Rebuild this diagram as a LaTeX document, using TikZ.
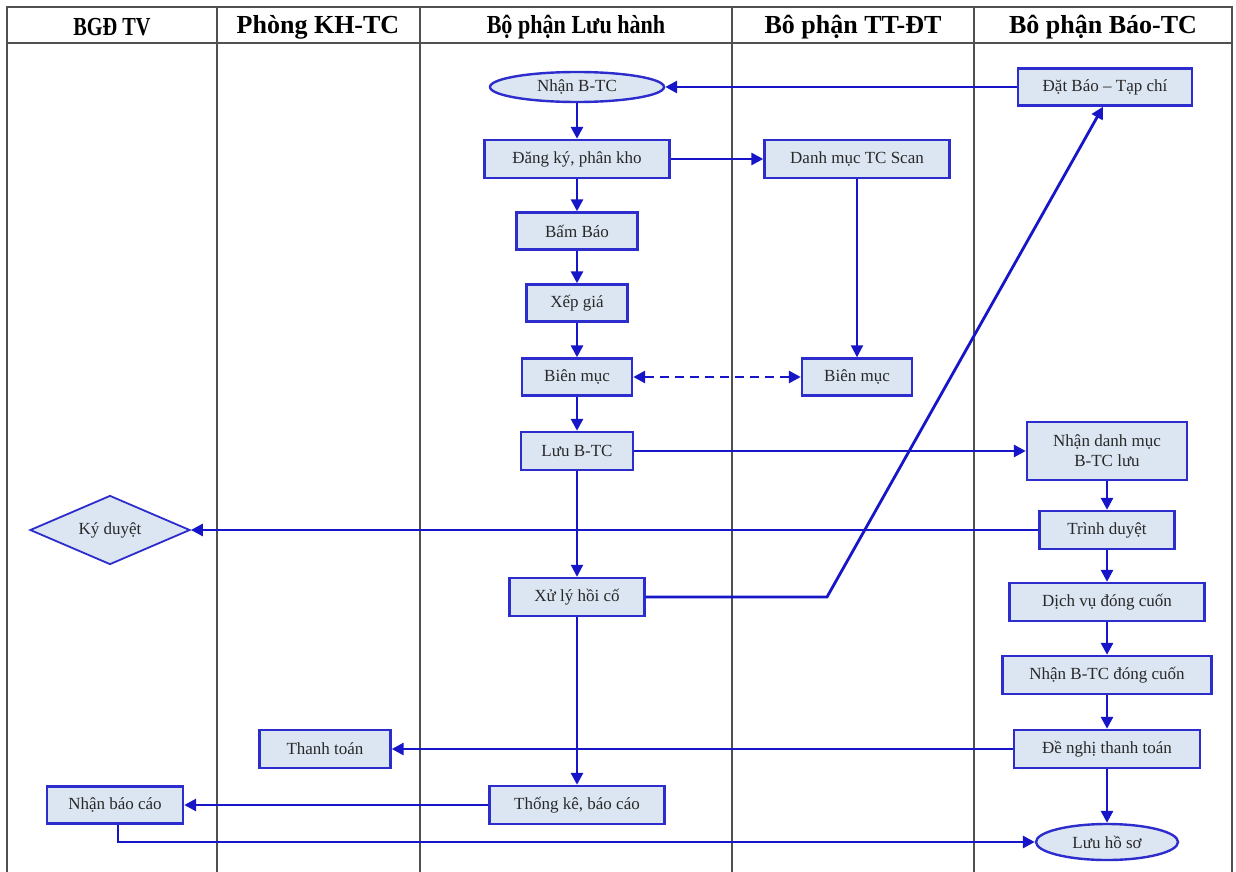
\documentclass[tikz,border=0pt]{standalone}
\usepackage{fontspec}
\setmainfont{Liberation Serif}
\usetikzlibrary{shapes.geometric,arrows.meta}
\definecolor{linkblue}{RGB}{22,22,200}
\definecolor{boxborder}{RGB}{45,45,205}
\definecolor{boxfill}{RGB}{220,230,242}
\definecolor{boxtext}{RGB}{40,40,40}
\definecolor{laneline}{RGB}{80,80,80}
\tikzset{
  x=1pt, y=-1pt,
  procbox/.style={draw=boxborder, line width=2.4pt, fill=boxfill, text=boxtext,
    inner sep=0pt, align=center, font=\fontsize{17}{20}\selectfont},
  ellbox/.style={procbox, ellipse},
  diabox/.style={procbox, diamond, aspect=2.3, line width=1.8pt},
  link/.style={draw=linkblue, line width=2.8pt, -{Triangle[length=12pt,width=12pt]}},
  thinlink/.style={link, line width=2pt},
  dashlink/.style={draw=linkblue, line width=2.8pt, dash pattern=on 9pt off 6pt,
    {Triangle[length=12pt,width=12pt]}-{Triangle[length=12pt,width=12pt]}},
  lane/.style={draw=laneline, line width=2pt},
  headtext/.style={font=\fontsize{26}{28}\selectfont\bfseries, text=black, inner sep=0pt},
}
\begin{document}
\begin{tikzpicture}
\useasboundingbox (0,0) rectangle (1236,872);
\fill[white] (0,0) rectangle (1236,872);
% lanes
\draw[lane] (7,872) -- (7,7) -- (1232,7) -- (1232,872);
\draw[lane] (7,43) -- (1232,43);
\foreach \lx in {217,420,732,974} {\draw[lane] (\lx,7) -- (\lx,872);}
% headers
\node[headtext] (h1) at (112,27) {\scalebox{0.78}[1]{BGĐ TV}};
\node[headtext] (h2) at (318,27) {Phòng KH-TC};
\node[headtext] (h3) at (576,27) {\scalebox{0.85}[1]{Bộ phận Lưu hành}};
\node[headtext] (h4) at (853,27) {Bô phận TT-ĐT};
\node[headtext] (h5) at (1103,27) {Bô phận Báo-TC};
% nodes
\node[ellbox, minimum width=174pt, minimum height=30pt] (nhan) at (577,87) {Nhận B-TC};
\node[procbox, minimum width=174pt, minimum height=37pt] (dat) at (1105,87) {Đặt Báo – Tạp chí};
\node[procbox, minimum width=185pt, minimum height=38pt] (dang) at (577,159) {Đăng ký, phân kho};
\node[procbox, minimum width=185pt, minimum height=38pt] (scan) at (857,159) {Danh mục TC Scan};
\node[procbox, minimum width=121pt, minimum height=37pt] (bam) at (577,231) {Bấm Báo};
\node[procbox, minimum width=101pt, minimum height=37pt] (xep) at (577,303) {Xếp giá};
\node[procbox, minimum width=110pt, minimum height=37pt] (bien1) at (577,377) {Biên mục};
\node[procbox, minimum width=110pt, minimum height=37pt] (bien2) at (857,377) {Biên mục};
\node[procbox, minimum width=112pt, minimum height=38pt] (luu) at (577,451) {Lưu B-TC};
\node[procbox, minimum width=160pt, minimum height=58pt] (ndm) at (1107,451) {Nhận danh mục\\B-TC lưu};
\node[procbox, minimum width=135pt, minimum height=38pt] (trinh) at (1107,530) {Trình duyệt};
\node[diabox, minimum width=160pt, minimum height=69pt] (ky) at (110,530) {Ký duyệt};
\node[procbox, minimum width=135pt, minimum height=38pt] (xuly) at (577,597) {Xử lý hồi cố};
\node[procbox, minimum width=195pt, minimum height=38pt] (dich) at (1107,602) {Dịch vụ đóng cuốn};
\node[procbox, minimum width=209pt, minimum height=38pt] (nhandc) at (1107,675) {Nhận B-TC đóng cuốn};
\node[procbox, minimum width=186pt, minimum height=38pt] (denghi) at (1107,749) {Đề nghị thanh toán};
\node[procbox, minimum width=131pt, minimum height=38pt] (thanh) at (325,749) {Thanh toán};
\node[procbox, minimum width=136pt, minimum height=37pt] (nbc) at (115,805) {Nhận báo cáo};
\node[procbox, minimum width=175pt, minimum height=38pt] (thong) at (577,805) {Thống kê, báo cáo};
\node[ellbox, minimum width=142pt, minimum height=36pt] (hoso) at (1107,842) {Lưu hồ sơ};
\coordinate (bend1) at (827,597);
\coordinate (bend2) at (118,842);
% connectors
\draw[link] (dat.west) -- (nhan.east);
\draw[link] (nhan) -- (dang);
\draw[link] (dang) -- (scan);
\draw[link] (dang) -- (bam);
\draw[link] (bam) -- (xep);
\draw[link] (xep) -- (bien1);
\draw[link] (bien1) -- (luu);
\draw[thinlink] (luu) -- (xuly);
\draw[link] (xuly) -- (thong);
\draw[thinlink] (scan) -- (bien2);
\draw[dashlink] (bien1) -- (bien2);
\draw[link] (luu) -- (ndm);
\draw[link] (ndm) -- (trinh);
\draw[link] (trinh.west) -- (ky.east);
\draw[link] (trinh) -- (dich);
\draw[link] (dich) -- (nhandc);
\draw[link] (nhandc) -- (denghi);
\draw[link] (denghi) -- (hoso);
\draw[link] (denghi) -- (thanh);
\draw[link] (thong) -- (nbc);
\draw[link] (nbc.south -| bend2) -- (bend2) -- (hoso.west);
\draw[link] (xuly.east) -- (bend1) -- ([xshift=-2pt]dat.south);
\end{tikzpicture}
\end{document}
